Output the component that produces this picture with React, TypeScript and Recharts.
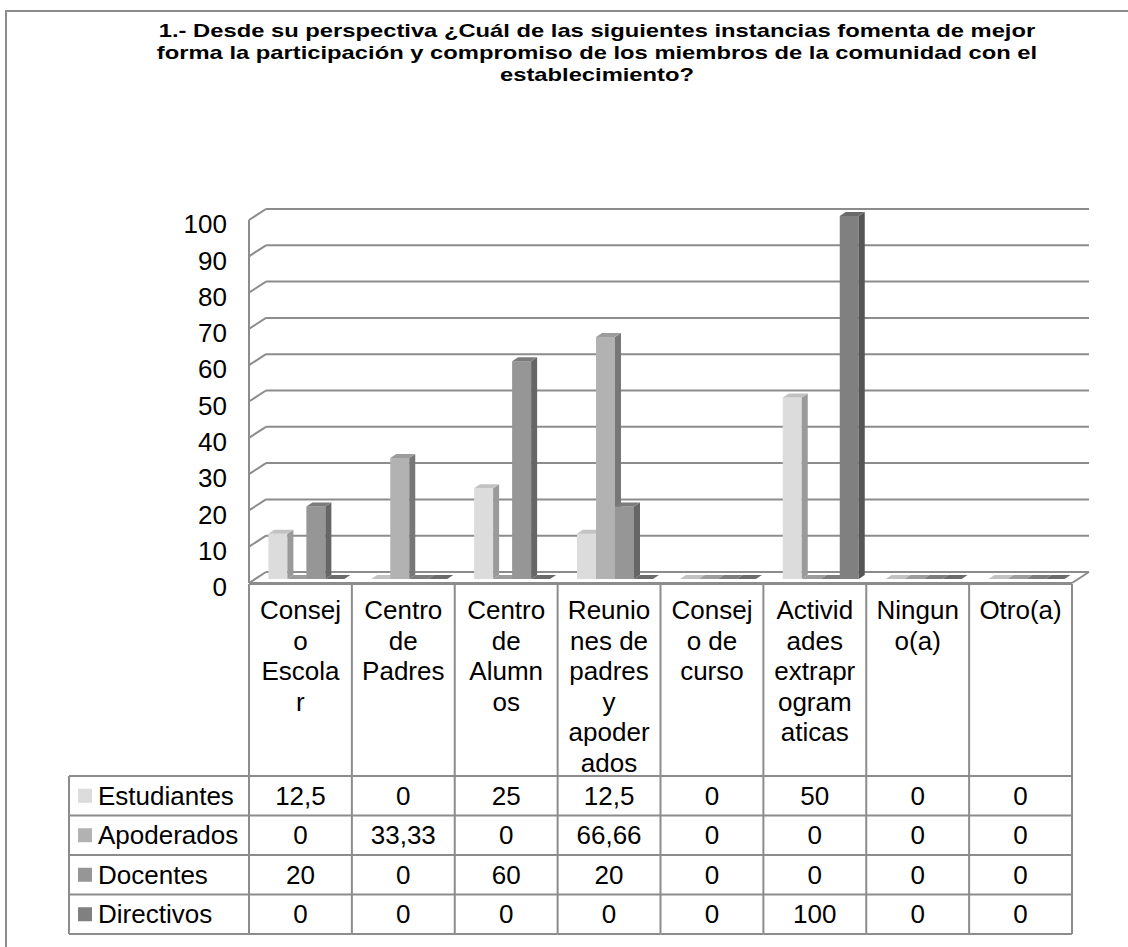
import React from 'react';
import { Bar, BarChart, CartesianGrid, XAxis, YAxis } from 'recharts';

// categories (full names) and how the table header wraps them
const CATEGORIES = [
  'Consejo Escolar',
  'Centro de Padres',
  'Centro de Alumnos',
  'Reuniones de padres y apoderados',
  'Consejo de curso',
  'Actividades extraprogramaticas',
  'Ninguno(a)',
  'Otro(a)',
];
const CATEGORY_LINES = [
  ['Consej', 'o', 'Escola', 'r'],
  ['Centro', 'de', 'Padres'],
  ['Centro', 'de', 'Alumn', 'os'],
  ['Reunio', 'nes de', 'padres', 'y', 'apoder', 'ados'],
  ['Consej', 'o de', 'curso'],
  ['Activid', 'ades', 'extrapr', 'ogram', 'aticas'],
  ['Ningun', 'o(a)'],
  ['Otro(a)'],
];

const SERIES = ['Estudiantes', 'Apoderados', 'Docentes', 'Directivos'];
const ESTUDIANTES = [12.5, 0, 25, 12.5, 0, 50, 0, 0];
const APODERADOS = [0, 33.33, 0, 66.66, 0, 0, 0, 0];
const DOCENTES = [20, 0, 60, 20, 0, 0, 0, 0];
const DIRECTIVOS = [0, 0, 0, 0, 0, 100, 0, 0];
const SERIES_VALUES = [ESTUDIANTES, APODERADOS, DOCENTES, DIRECTIVOS];

const Y_TICKS = [0, 10, 20, 30, 40, 50, 60, 70, 80, 90, 100];

const TITLE_LINES = [
  '1.- Desde su perspectiva ¿Cuál de las siguientes instancias fomenta de mejor',
  'forma la participación y compromiso de los miembros de la comunidad con el',
  'establecimiento?',
];

// front / side / top shades for each series
const SHADES = [
  { front: '#dcdcdc', side: '#9a9a9a', top: '#c2c2c2' },
  { front: '#b2b2b2', side: '#777777', top: '#9c9c9c' },
  { front: '#969696', side: '#666666', top: '#7c7c7c' },
  { front: '#808080', side: '#555555', top: '#6a6a6a' },
];

const W = 1128;
const H = 947;
const PLOT_LEFT = 249;
const PLOT_RIGHT = 1072;
const PLOT_TOP = 220;
const PLOT_BOTTOM = 583;
const COL_W = (PLOT_RIGHT - PLOT_LEFT) / CATEGORIES.length;

const WALL_DX = 17;
const WALL_DY = -11;
const BAR_DX = 6;
const BAR_DY = -4;
const SIDE_DX = 6;
const SIDE_DY = -4;

const FONT = '"Liberation Sans", Arial, sans-serif';
const LINE = '#8c8c8c';

const TABLE_TOP = 584;
const HEADER_BOTTOM = 776;
const ROW_H = 39.5;
const LEGEND_LEFT = 69;

const data = CATEGORIES.map((name, i) => {
  const row: Record<string, string | number> = { name };
  SERIES.forEach((s, k) => {
    row[s] = SERIES_VALUES[k][i];
  });
  return row;
});

const fmt = (v: number) => String(v).replace('.', ',');

function barShape(k: number) {
  const c = SHADES[k];
  return (props: any) => {
    const { x, y, width } = props;
    const h = Math.max(props.height || 0, 0);
    const fx = x + BAR_DX;
    const fy = y + BAR_DY;
    const top = `${fx},${fy} ${fx + SIDE_DX},${fy + SIDE_DY} ${fx + width + SIDE_DX},${fy + SIDE_DY} ${fx + width},${fy}`;
    const side = `${fx + width},${fy} ${fx + width + SIDE_DX},${fy + SIDE_DY} ${fx + width + SIDE_DX},${fy + h + SIDE_DY} ${fx + width},${fy + h}`;
    return (
      <g>
        {h > 0 && <rect x={fx} y={fy} width={width} height={h} fill={c.front} />}
        {h > 0 && <polygon points={side} fill={c.side} />}
        <polygon points={top} fill={c.top} />
      </g>
    );
  };
}

const renderGridLine = (p: any) => {
  const { x1, y1, x2, y2 } = p;
  const floor = Math.abs(y1 - PLOT_BOTTOM) < 1;
  return (
    <g key={`grid-${y1}`}>
      <line x1={x1} y1={y1} x2={x1 + WALL_DX} y2={y1 + WALL_DY} stroke={LINE} strokeWidth={2} />
      <line x1={x1 + WALL_DX} y1={y1 + WALL_DY} x2={x2 + WALL_DX} y2={y2 + WALL_DY} stroke={LINE} strokeWidth={2} />
      {floor && <line x1={x2} y1={y2} x2={x2 + WALL_DX} y2={y2 + WALL_DY} stroke={LINE} strokeWidth={2} />}
    </g>
  );
};

const YTick = (props: any) => {
  const { y, payload } = props;
  return (
    <text x={PLOT_LEFT - 22} y={y + 4} dy="0.355em" textAnchor="end" fontSize={26} fontFamily={FONT} fill="#000">
      {payload.value}
    </text>
  );
};

const rowTops = SERIES.map((_, r) => HEADER_BOTTOM + r * ROW_H);
const TABLE_BOTTOM = HEADER_BOTTOM + SERIES.length * ROW_H;

const TableColumn = (props: any) => {
  const { x, payload } = props;
  const i: number = payload.index ?? CATEGORIES.indexOf(payload.value);
  const left = x - COL_W / 2;
  const right = x + COL_W / 2;
  const lines = CATEGORY_LINES[i] || [payload.value];
  return (
    <g fontFamily={FONT} fontSize={26} fill="#000">
      {lines.map((t, j) => (
        <text key={j} x={x} y={619 + j * 30.5} textAnchor="middle">
          {t}
        </text>
      ))}
      {SERIES.map((s, r) => (
        <text key={s} x={x} y={rowTops[r] + ROW_H / 2} dy="0.355em" textAnchor="middle">
          {fmt(SERIES_VALUES[r][i])}
        </text>
      ))}
      <line x1={left} y1={TABLE_TOP} x2={right} y2={TABLE_TOP} stroke={LINE} strokeWidth={2} />
      {[...rowTops, TABLE_BOTTOM].map((ry) => (
        <line key={ry} x1={left} y1={ry} x2={right} y2={ry} stroke={LINE} strokeWidth={2} />
      ))}
      <line x1={left} y1={TABLE_TOP} x2={left} y2={TABLE_BOTTOM} stroke={LINE} strokeWidth={2} />
      {i === CATEGORIES.length - 1 && (
        <line x1={right} y1={TABLE_TOP} x2={right} y2={TABLE_BOTTOM} stroke={LINE} strokeWidth={2} />
      )}
      {i === 0 && (
        <g>
          {[...rowTops, TABLE_BOTTOM].map((ry) => (
            <line key={ry} x1={LEGEND_LEFT} y1={ry} x2={left} y2={ry} stroke={LINE} strokeWidth={2} />
          ))}
          <line x1={LEGEND_LEFT} y1={HEADER_BOTTOM} x2={LEGEND_LEFT} y2={TABLE_BOTTOM} stroke={LINE} strokeWidth={2} />
          {SERIES.map((s, r) => (
            <g key={s}>
              <rect x={LEGEND_LEFT + 9} y={rowTops[r] + ROW_H / 2 - 7} width={14} height={14} fill={SHADES[r].front} />
              <text x={LEGEND_LEFT + 29} y={rowTops[r] + ROW_H / 2} dy="0.355em">
                {s}
              </text>
            </g>
          ))}
        </g>
      )}
    </g>
  );
};

export default function App() {
  return (
    <div style={{ position: 'absolute', left: 0, top: 0, width: W, height: H, background: '#fff' }}>
      <div
        style={{
          position: 'absolute',
          left: 5,
          top: 10,
          width: W,
          height: H,
          borderLeft: `2px solid ${LINE}`,
          borderTop: `2px solid ${LINE}`,
        }}
      />
      <div
        style={{
          position: 'absolute',
          left: 97,
          top: 20,
          width: 1000,
          textAlign: 'center',
          fontFamily: FONT,
          fontWeight: 'bold',
          fontSize: 19,
          lineHeight: '22px',
          transform: 'scaleX(1.25)',
          transformOrigin: 'center',
        }}
      >
        {TITLE_LINES.map((t) => (
          <div key={t}>{t}</div>
        ))}
      </div>
      <div style={{ position: 'absolute', left: 0, top: 0 }}>
        <BarChart
          width={W}
          height={H}
          data={data}
          margin={{ top: PLOT_TOP, right: W - PLOT_RIGHT, bottom: 0, left: PLOT_LEFT - 60 }}
          barCategoryGap="13%"
          barGap={0}
        >
          <CartesianGrid horizontal={renderGridLine} vertical={false} />
          <YAxis
            type="number"
            domain={[0, 100]}
            ticks={Y_TICKS}
            width={60}
            tickLine={false}
            axisLine={{ stroke: LINE, strokeWidth: 2 }}
            tick={<YTick />}
          />
          <XAxis
            dataKey="name"
            height={H - PLOT_BOTTOM}
            interval={0}
            tickLine={false}
            axisLine={{ stroke: LINE, strokeWidth: 2 }}
            tick={<TableColumn />}
          />
          {SERIES.map((s, k) => (
            <Bar key={s} dataKey={s} isAnimationActive={false} shape={barShape(k)} />
          ))}
        </BarChart>
      </div>
    </div>
  );
}
